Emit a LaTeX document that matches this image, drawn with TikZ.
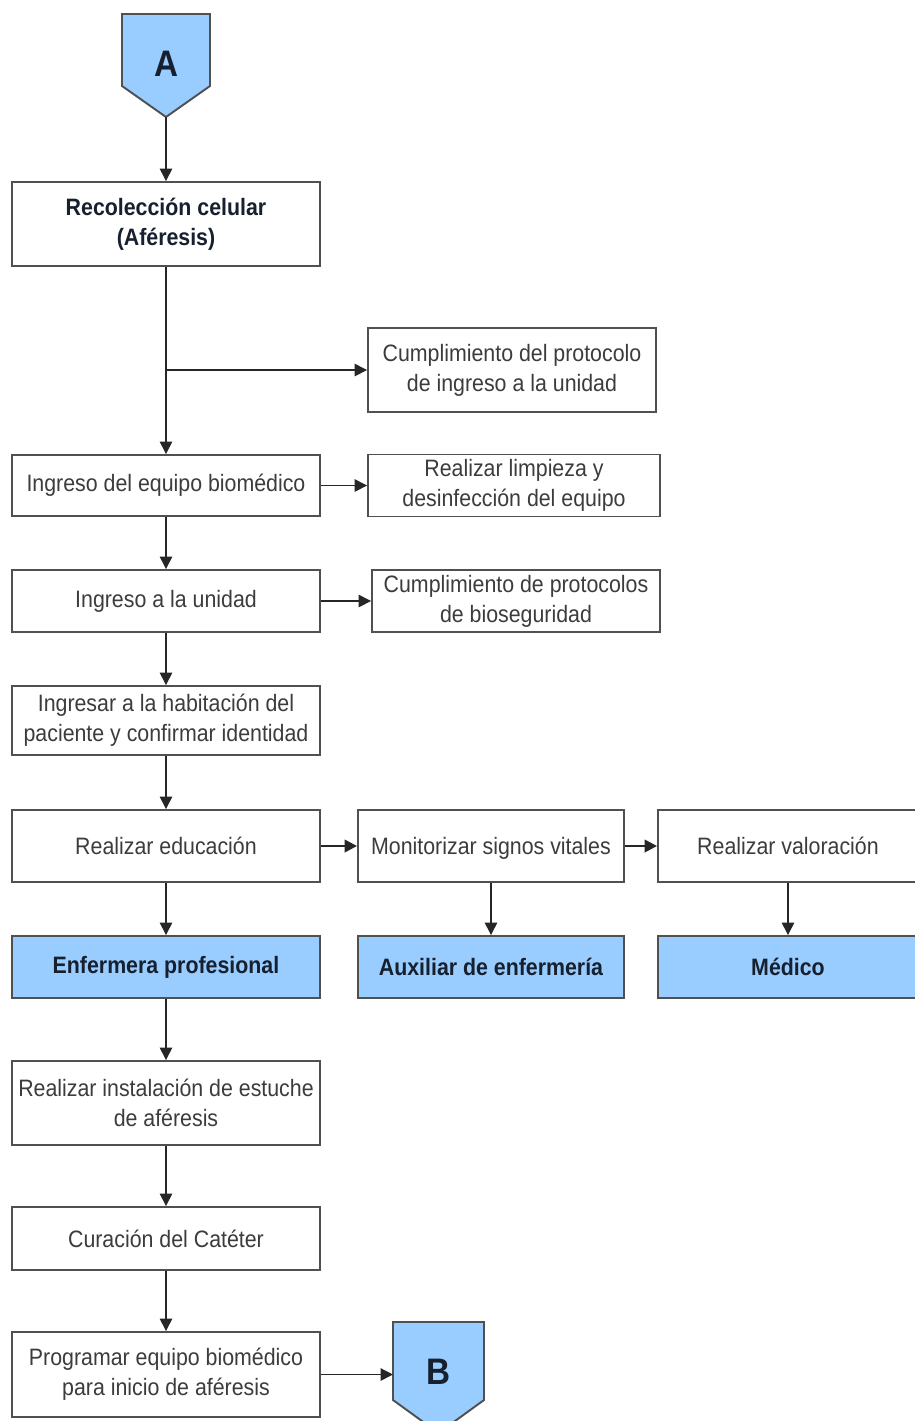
\documentclass[tikz,border=0pt]{standalone}
\usepackage{fontspec}
\setmainfont{Liberation Sans}[FakeStretch=0.9]
\usetikzlibrary{arrows.meta}

\definecolor{azulrol}{RGB}{153,204,255}
\definecolor{bordegris}{RGB}{80,80,80}
\definecolor{textogris}{RGB}{60,60,60}
\definecolor{textorol}{RGB}{22,32,46}

\tikzset{
  paso/.style={draw=bordegris, line width=1.1pt, fill=white, text=textogris, align=center,
    inner sep=0pt, font=\fontsize{13.5}{17}\selectfont},
  rol/.style={paso, fill=azulrol, text=textorol, font=\fontsize{13.5}{17}\selectfont\bfseries},
  conector/.style={draw=bordegris, line width=1.1pt, fill=azulrol},
  letra/.style={text=textorol, font=\fontsize{21}{21}\selectfont\bfseries},
  flecha/.style={->, >={Triangle[length=2.5mm, width=2.5mm]}, line width=0.8pt, black!85}
}

\begin{document}
\begin{tikzpicture}[x=0.02cm, y=-0.02cm]
      \useasboundingbox (0,0) rectangle (915,1421);
      % conector de entrada
      \draw[conector] (122,14) -- (210,14) -- (210,86) -- (166,117) -- (122,86) -- cycle;
      \node[letra] (A) at (166,64) {A};
      \coordinate (Apunta) at (166,117);
      %
      \node[paso, text=textorol, font=\fontsize{13.5}{17}\selectfont\bfseries, minimum width=6.16cm, minimum height=1.68cm] (recol) at (166,224) {Recolección celular\\(Aféresis)};
      \node[paso, minimum width=5.76cm, minimum height=1.68cm] (protoc) at (512,370) {Cumplimiento del protocolo\\de ingreso a la unidad};
      \node[paso, minimum width=6.16cm, minimum height=1.22cm] (equipo) at (166,485.5) {Ingreso del equipo biomédico};
      \node[paso, minimum width=5.84cm, minimum height=1.24cm] (limpieza) at (514,485.5) {Realizar limpieza y\\desinfección del equipo};
      \node[paso, minimum width=6.16cm, minimum height=1.24cm] (unidad) at (166,601) {Ingreso a la unidad};
      \node[paso, minimum width=5.76cm, minimum height=1.24cm] (bioseg) at (516,601) {Cumplimiento de protocolos\\de bioseguridad};
      \node[paso, minimum width=6.16cm, minimum height=1.38cm] (habit) at (166,720.5) {Ingresar a la habitación del\\paciente y confirmar identidad};
      %
      \node[paso, minimum width=6.16cm, minimum height=1.44cm] (educ) at (166,846) {Realizar educación};
      \node[paso, minimum width=5.32cm, minimum height=1.44cm, text depth=0pt] (signos) at (491,846) {Monitorizar signos vitales};
      \node[paso, minimum width=5.2cm, minimum height=1.44cm] (valor) at (788,846) {Realizar valoración};
      \node[rol, minimum width=6.16cm, minimum height=1.24cm] (enfermera) at (166,967) {Enfermera profesional};
      \node[rol, minimum width=5.32cm, minimum height=1.24cm] (auxiliar) at (491,967) {Auxiliar de enfermería};
      \node[rol, minimum width=5.2cm, minimum height=1.24cm] (medico) at (788,967) {Médico};
      %
      \node[paso, minimum width=6.16cm, minimum height=1.68cm] (estuche) at (166,1103) {Realizar instalación de estuche\\de aféresis};
      \node[paso, minimum width=6.16cm, minimum height=1.26cm] (cateter) at (166,1238.5) {Curación del Catéter};
      \node[paso, minimum width=6.16cm, minimum height=1.7cm] (program) at (166,1374.5) {Programar equipo biomédico\\para inicio de aféresis};
      % conector de salida
      \draw[conector] (393,1322) -- (484,1322) -- (484,1400) -- (438.5,1433) -- (393,1400) -- cycle;
      \node[letra] (B) at (438.5,1372) {B};
      \coordinate (Bentra) at (393,1374.5);
      %
      \draw[flecha] (Apunta) -- (recol.north);
      \draw[flecha] (recol.south) -- (equipo.north);
      \draw[flecha] (recol.south |- protoc.west) -- (protoc.west);
      \draw[flecha] (equipo.east) -- (limpieza.west);
      \draw[flecha] (equipo.south) -- (unidad.north);
      \draw[flecha] (unidad.east) -- (bioseg.west);
      \draw[flecha] (unidad.south) -- (habit.north);
      \draw[flecha] (habit.south) -- (educ.north);
      %
      \draw[flecha, line width=1.4pt] (educ.east) -- (signos.west);
      \draw[flecha, line width=1.4pt] (signos.east) -- (valor.west);
      \draw[flecha] (educ.south) -- (enfermera.north);
      \draw[flecha] (signos.south) -- (auxiliar.north);
      \draw[flecha] (valor.south) -- (medico.north);
      %
      \draw[flecha] (enfermera.south) -- (estuche.north);
      \draw[flecha] (estuche.south) -- (cateter.north);
      \draw[flecha] (cateter.south) -- (program.north);
      \draw[flecha] (program.east) -- (Bentra);
\end{tikzpicture}
\end{document}
